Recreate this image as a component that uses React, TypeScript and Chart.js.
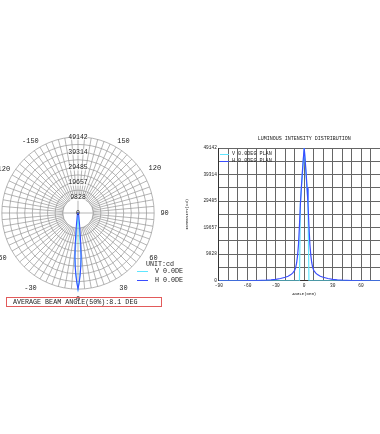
import React, { useEffect, useRef } from 'react';
import { Chart, registerables } from 'chart.js';

Chart.register(...registerables);

// ---------- data ----------
const ANGLES = [
  -90, -80, -70, -60, -50, -40, -35, -30, -25, -20, -17, -14, -12, -10, -9, -8, -7, -6, -5, -4, -3, -2, -1,
  0,
  1, 2, 3, 4, 5, 6, 7, 8, 9, 10, 12, 14, 17, 20, 25, 30, 35, 40, 50, 60, 70, 80, 90,
];
const H_VALUES = [
  0, 0, 10, 30, 90, 220, 350, 550, 850, 1300, 1700, 2300, 2900, 3900, 4900, 6600, 9300, 13500, 20500, 28500, 34500, 40000, 44800,
  49142,
  44800, 40000, 34500, 28500, 20500, 13500, 9300, 6600, 4900, 3900, 2900, 2300, 1700, 1300, 850, 550, 350, 220, 90, 30, 10, 0, 0,
];
const V_VALUES = [
  0, 0, 0, 0, 0, 0, 0, 0, 0, 0, 0, 0, 0, 0, 0, 0, 0, 0, 0, 28500, 34000, 39000, 44000,
  49142,
  44000, 39000, 34000, 28500, 0, 0, 0, 0, 0, 0, 0, 0, 0, 0, 0, 0, 0, 0, 0, 0, 0, 0, 0,
];
const MAX_INTENSITY = 49142;
const INTENSITY_STEP = 4914.2;
const INTENSITY_TICK_LABELS = ['0', '9828', '19657', '29485', '39314', '49142'];
const POLAR_LABEL_ANGLES = [0, 30, 60, 90, 120, 150, -150, -120, -90, -60, -30];
const X_TICK_LABELS = [-90, -60, -30, 0, 30, 60, 90];

const V_LABEL = 'V 0.0DEG';
const H_LABEL = 'H 0.0DEG';
const V_PLAN = 'V 0.0DEG PLAN';
const H_PLAN = 'H 0.0DEG PLAN';
const UNIT_TEXT = 'UNIT:cd';
const BEAM_TEXT = 'AVERAGE BEAM ANGLE(50%):8.1 DEG';
const CART_TITLE = 'LUMINOUS INTENSITY DISTRIBUTION';
const X_TITLE = 'ANGLE(DEG)';
const Y_TITLE = 'INTENSITY(cd)';

const MONO = '"Liberation Mono", "DejaVu Sans Mono", monospace';
const CYAN = '#5fe6ff';
const BLUE = '#3a4dff';
const POLAR_GRID = '#959595';
const CART_GRID = '#666666';

// polar labels: clockwise from top = 180, 179, ... , -179
const POLAR_ANGLES: number[] = [];
for (let i = 0; i < 360; i++) POLAR_ANGLES.push(180 - i);

const POINT_LABEL_PADDING: Record<string, number> = { '150': -1, '-150': -1, '120': 2, '-120': -1 };

function polarSeries(values: number[]) {
  return POLAR_ANGLES.map((a) => {
    const k = ANGLES.indexOf(a);
    return k >= 0 ? values[k] : null;
  });
}

const holePlugin = {
  id: 'hole',
  beforeDatasetsDraw(chart: any) {
    const s = chart.scales.r;
    const ctx = chart.ctx;
    const r = s.getDistanceFromCenterForValue(INTENSITY_STEP * 2);
    ctx.save();
    ctx.beginPath();
    ctx.arc(s.xCenter, s.yCenter, r, 0, Math.PI * 2);
    ctx.fillStyle = '#ffffff';
    ctx.fill();
    ctx.strokeStyle = POLAR_GRID;
    ctx.lineWidth = 0.7;
    ctx.stroke();
    ctx.beginPath();
    ctx.moveTo(s.xCenter - r, s.yCenter);
    ctx.lineTo(s.xCenter + r, s.yCenter);
    ctx.moveTo(s.xCenter, s.yCenter - r);
    ctx.lineTo(s.xCenter, s.yCenter + r);
    ctx.stroke();
    ctx.restore();
  },
  afterDatasetsDraw(chart: any) {
    const s = chart.scales.r;
    const ctx = chart.ctx;
    ctx.save();
    ctx.font = `6.5px ${MONO}`;
    ctx.fillStyle = '#222';
    ctx.textAlign = 'center';
    ctx.textBaseline = 'middle';
    ctx.fillText(INTENSITY_TICK_LABELS[0], s.xCenter, s.yCenter);
    ctx.restore();
  },
};

function PolarChart() {
  const ref = useRef<HTMLCanvasElement>(null);
  useEffect(() => {
    const chart = new Chart(ref.current!, {
      type: 'radar',
      data: {
        labels: POLAR_ANGLES.map(String),
        datasets: [
          {
            label: V_LABEL,
            data: polarSeries(V_VALUES),
            borderColor: CYAN,
            borderWidth: 1.1,
            backgroundColor: 'transparent',
            fill: false,
            pointRadius: 0,
            spanGaps: true,
            order: 1,
          },
          {
            label: H_LABEL,
            data: polarSeries(H_VALUES),
            borderColor: BLUE,
            borderWidth: 1.1,
            backgroundColor: 'transparent',
            fill: false,
            pointRadius: 0,
            spanGaps: true,
            order: 0,
          },
        ],
      } as any,
      options: {
        animation: false,
        responsive: false,
        events: [],
        plugins: { legend: { display: false }, tooltip: { enabled: false } },
        scales: {
          r: {
            min: 0,
            max: MAX_INTENSITY,
            startAngle: 0,
            ticks: {
              stepSize: INTENSITY_STEP,
              z: 1,
              color: '#222',
              font: { family: MONO, size: 6.5 },
              callback: (_v: any, i: number) => (i % 2 === 0 ? INTENSITY_TICK_LABELS[i / 2] : ''),
              showLabelBackdrop: (c: any) => c.index % 2 === 0,
              backdropColor: 'rgba(255,255,255,0.7)',
              backdropPadding: 0,
            },
            grid: { circular: true, color: POLAR_GRID, lineWidth: 0.7 },
            angleLines: {
              color: POLAR_GRID,
              lineWidth: (c: any) => (c.index % 5 === 0 ? 0.7 : 0),
            },
            pointLabels: {
              callback: (label: string) => (POLAR_LABEL_ANGLES.includes(Number(label)) ? label : ''),
              font: (c: any) => ({ family: MONO, size: c.label ? 7 : 1 }),
              padding: (c: any) =>
                c.label ? (POINT_LABEL_PADDING[c.label] !== undefined ? POINT_LABEL_PADDING[c.label] : 3) : 0,
              color: '#222',
            },
          },
        },
      } as any,
      plugins: [holePlugin],
    });
    return () => chart.destroy();
  }, []);
  return (
    <canvas
      ref={ref}
      width={190}
      height={190}
      style={{ position: 'absolute', left: -19, top: 124, width: 190, height: 190 }}
    />
  );
}

function CartesianChart() {
  const ref = useRef<HTMLCanvasElement>(null);
  useEffect(() => {
    const font = { family: MONO, size: 4.5 };
    const chart = new Chart(ref.current!, {
      type: 'scatter',
      data: {
        datasets: [
          {
            label: V_PLAN,
            data: ANGLES.map((a, i) => ({ x: a, y: V_VALUES[i] })),
            borderColor: CYAN,
            borderWidth: 1.2,
            showLine: true,
            pointRadius: 0,
            order: 1,
          },
          {
            label: H_PLAN,
            data: ANGLES.map((a, i) => ({ x: a, y: H_VALUES[i] })),
            borderColor: BLUE,
            borderWidth: 1.2,
            showLine: true,
            pointRadius: 0,
            order: 0,
          },
        ],
      },
      options: {
        animation: false,
        responsive: false,
        events: [],
        layout: { padding: { right: 31.5, bottom: 0 } },
        plugins: {
          legend: { display: false },
          tooltip: { enabled: false },
        },
        scales: {
          x: {
            type: 'linear',
            min: -90,
            max: 90,
            ticks: {
              stepSize: 10,
              autoSkip: false,
              maxRotation: 0,
              color: '#222',
              font,
              padding: 2.5,
              callback: (v: any) => (X_TICK_LABELS.includes(Number(v)) ? String(v) : ''),
            },
            grid: { color: CART_GRID, lineWidth: 1, drawTicks: false },
            border: { color: '#333' },
            title: { display: true, text: X_TITLE, color: '#222', font: { family: MONO, size: 4 }, padding: 0 },
          },
          xTop: {
            type: 'linear',
            position: 'top',
            min: -90,
            max: 90,
            grid: { display: false, drawTicks: false },
            border: { display: false },
            ticks: { display: false },
            title: {
              display: true,
              text: CART_TITLE,
              color: '#222',
              font: { family: MONO, size: 5 },
              padding: { top: 6.5, bottom: 6.5 },
            },
          },
          y: {
            min: 0,
            max: MAX_INTENSITY,
            ticks: {
              stepSize: INTENSITY_STEP,
              autoSkip: false,
              color: '#222',
              font,
              padding: 2,
              callback: (_v: any, i: number) => (i % 2 === 0 ? INTENSITY_TICK_LABELS[i / 2] : ''),
            },
            grid: { color: CART_GRID, lineWidth: 1, drawTicks: false },
            border: { color: '#333' },
            title: {
              display: true,
              text: Y_TITLE,
              color: '#222',
              font: { family: MONO, size: 4 },
              padding: { top: 0, bottom: 11.6 },
            },
          },
        },
      } as any,
    });
    return () => chart.destroy();
  }, []);
  return (
    <canvas
      ref={ref}
      width={236}
      height={167}
      style={{ position: 'absolute', left: 185, top: 129, width: 236, height: 167 }}
    />
  );
}

const lineStyle = (left: number, top: number, width: number, color: string): React.CSSProperties => ({
  position: 'absolute',
  left,
  top,
  width,
  height: 0,
  borderTop: `1.2px solid ${color}`,
});

const textStyle = (left: number, top: number, size: number): React.CSSProperties => ({
  position: 'absolute',
  left,
  top,
  fontFamily: MONO,
  fontSize: size,
  lineHeight: `${size}px`,
  whiteSpace: 'nowrap',
  color: '#222',
});

export default function App() {
  return (
    <div
      style={{
        position: 'fixed',
        left: 0,
        top: 0,
        width: 380,
        height: 434,
        overflow: 'hidden',
        background: '#fff',
      }}
    >
      <PolarChart />
      {/* polar legend */}
      <div style={{ position: 'absolute', left: 130, top: 256, width: 53, height: 30, overflow: 'hidden' }}>
        <div style={textStyle(16, 4.5, 6.7)}>{UNIT_TEXT}</div>
        <div style={lineStyle(7, 15, 11, CYAN)} />
        <div style={textStyle(25, 12, 6.7)}>{V_LABEL}</div>
        <div style={lineStyle(7, 23.5, 11, BLUE)} />
        <div style={textStyle(25, 20.5, 6.7)}>{H_LABEL}</div>
      </div>
      {/* beam angle box */}
      <div
        style={{
          position: 'absolute',
          left: 6,
          top: 297,
          width: 154,
          height: 8,
          border: '1px solid #e25a5a',
        }}
      >
        <div style={textStyle(6, 0.5, 6.7)}>{BEAM_TEXT}</div>
      </div>
      <CartesianChart />
      {/* cartesian legend */}
      <div style={lineStyle(220, 154, 9, CYAN)} />
      <div style={textStyle(232, 152, 5.1)}>{V_PLAN}</div>
      <div style={lineStyle(220, 160.5, 9, BLUE)} />
      <div style={textStyle(232, 158.5, 5.1)}>{H_PLAN}</div>
    </div>
  );
}
